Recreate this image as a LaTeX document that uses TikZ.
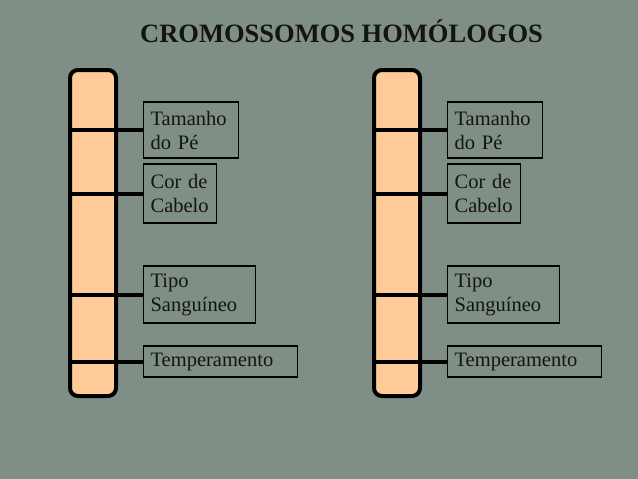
\documentclass[tikz,border=0pt]{standalone}
\usepackage{fontspec}
\setmainfont{Liberation Serif}
\definecolor{fundo}{RGB}{127,143,134}
\definecolor{pessego}{RGB}{255,204,153}
\definecolor{tinta}{RGB}{20,20,20}

\begin{document}
\begin{tikzpicture}[x=1pt,y=-1pt,
    cromo/.style={draw=black,fill=pessego,line width=4pt,rounded corners=8pt,
      minimum width=46pt,minimum height=326pt,inner sep=0pt},
    gene/.style={draw=black,line width=1.2pt,anchor=west,align=left,
      inner xsep=7pt,inner ysep=0pt,text=tinta,font=\fontsize{20.5}{24}\selectfont},
    liga/.style={draw=black,line width=4pt}]
  \fill[fundo] (0,0) rectangle (638,479);
  \useasboundingbox (0,0) rectangle (638,479);
  \node[font=\fontsize{26.5}{30}\selectfont\bfseries,text=tinta,anchor=base] (titulo) at (341.5,42) {CROMOSSOMOS HOMÓLOGOS};
  % cromossomo da esquerda
  \node[cromo] (cromoA) at (93,233) {};
  \node[gene,text width=81pt,minimum height=56pt] (tamA) at (143,130) {Tamanho\\do Pé};
  \node[gene,text width=59pt,minimum height=59pt] (corA) at (143,193.5) {Cor de\\Cabelo};
  \node[gene,text width=98pt,minimum height=57pt] (tipoA) at (143,294.5) {Tipo\\Sanguíneo};
  \node[gene,text width=140pt,minimum height=31pt] (tempA) at (143,361.5) {Temperamento};
  \draw[liga] (cromoA.west |- tamA.west) -- (tamA.west);
  \draw[liga] (cromoA.west |- corA.west) -- (corA.west);
  \draw[liga] (cromoA.west |- tipoA.west) -- (tipoA.west);
  \draw[liga] (cromoA.west |- tempA.west) -- (tempA.west);
  % cromossomo da direita
  \node[cromo] (cromoB) at (397,233) {};
  \node[gene,text width=81pt,minimum height=56pt] (tamB) at (447,130) {Tamanho\\do Pé};
  \node[gene,text width=59pt,minimum height=59pt] (corB) at (447,193.5) {Cor de\\Cabelo};
  \node[gene,text width=98pt,minimum height=57pt] (tipoB) at (447,294.5) {Tipo\\Sanguíneo};
  \node[gene,text width=140pt,minimum height=31pt] (tempB) at (447,361.5) {Temperamento};
  \draw[liga] (cromoB.west |- tamB.west) -- (tamB.west);
  \draw[liga] (cromoB.west |- corB.west) -- (corB.west);
  \draw[liga] (cromoB.west |- tipoB.west) -- (tipoB.west);
  \draw[liga] (cromoB.west |- tempB.west) -- (tempB.west);
\end{tikzpicture}
\end{document}
